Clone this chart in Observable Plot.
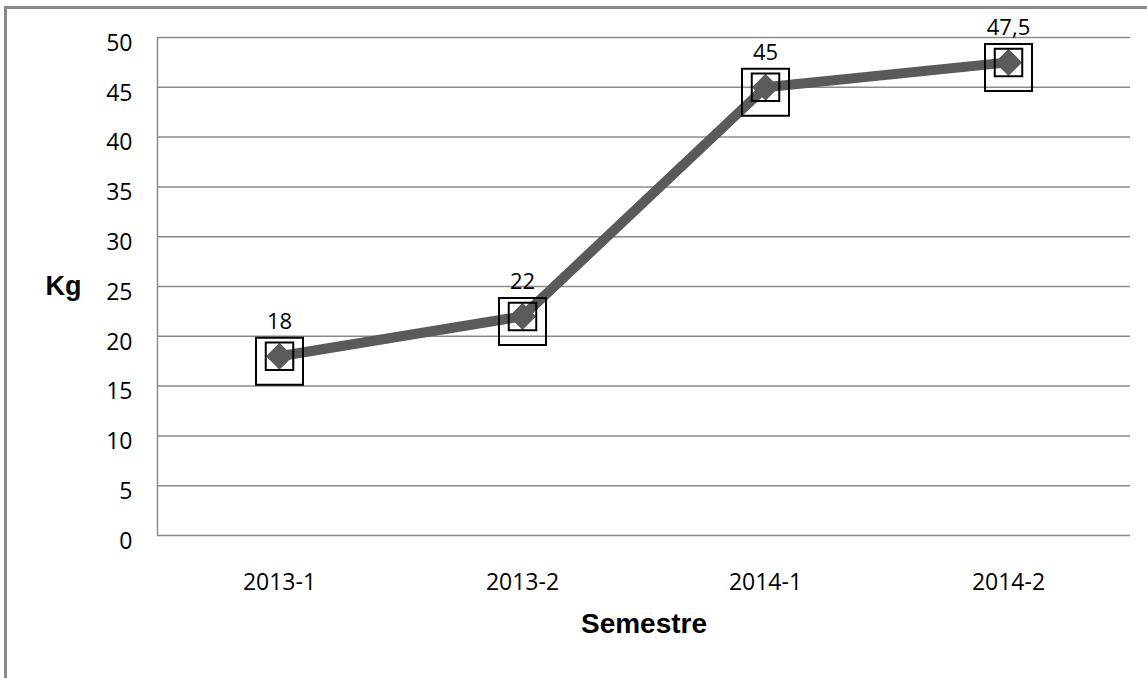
<!DOCTYPE html>
<html>
<head>
<meta charset="utf-8">
<script src="https://cdn.jsdelivr.net/npm/d3@7"></script>
<script src="https://cdn.jsdelivr.net/npm/@observablehq/plot@0.6"></script>
<style>
  html, body { margin: 0; padding: 0; background: #fff; overflow: hidden; }
  #frame { position: absolute; left: 4px; top: 6px; width: 1400px; height: 900px;
           border-left: 3px solid #8a8a8a; border-top: 3px solid #8a8a8a; }
  #chart { position: absolute; left: 0; top: 0; }
</style>
</head>
<body>
<div id="frame"></div>
<div id="chart"></div>
<script>
const semestres = ["2013-1", "2013-2", "2014-1", "2014-2"];
const kg = [18, 22, 45, 47.5];
const valueLabels = ["18", "22", "45", "47,5"];
const yTicks = [0, 5, 10, 15, 20, 25, 30, 35, 40, 45, 50];

const data = semestres.map((s, i) => ({semestre: s, kg: kg[i], label: valueLabels[i]}));

const W = 1147, H = 678, ML = 157, MR = 17, MT = 37, MB = 143;
const sq = side => side / Math.sqrt(Math.PI);

const chart = Plot.plot({
  width: W,
  height: H,
  marginLeft: ML,
  marginRight: MR,
  marginTop: MT,
  marginBottom: MB,
  style: {background: "transparent", fontFamily: "'Open Sans', sans-serif"},
  x: {type: "point", domain: semestres, padding: 0.5, axis: null},
  y: {domain: [0, 50], axis: null},
  marks: [
    Plot.gridY(yTicks, {stroke: "#8a8a8a", strokeOpacity: 1, strokeWidth: 1.5}),
    Plot.ruleX([0], {x: null, y1: 0, y2: 50, dx: -((ML + W - MR) / 2 - ML), stroke: "#8a8a8a", strokeWidth: 1.5}),
    Plot.axisY(yTicks, {tickSize: 0, tickPadding: 25, dy: 6, fontSize: 23, fill: "#000", label: null}),
    Plot.axisX(semestres, {tickSize: 0, tickPadding: 38, fontSize: 23, fill: "#000", label: null}),
    Plot.line(data, {x: "semestre", y: "kg", stroke: "#5a5a5a", strokeWidth: 10}),
    Plot.dot(data, {x: "semestre", y: "kg", symbol: "square", r: sq(47), dy: 5, stroke: "#000", strokeWidth: 2, fill: "none"}),
    Plot.dot(data, {x: "semestre", y: "kg", symbol: "diamond2", r: 12.2, fill: "#5b5b5b", stroke: "none", ariaLabel: "diamond"}),
    Plot.dot(data, {x: "semestre", y: "kg", symbol: "square", r: sq(27.5), stroke: "#000", strokeWidth: 2, fill: "none"}),
    Plot.text(data, {x: "semestre", y: "kg", text: "label", dy: -34, fontSize: 22, fill: "#000"}),
    Plot.text(["Kg"], {frameAnchor: "left", textAnchor: "middle", dx: -94, fontSize: 27, fontWeight: "bold", fontFamily: "'Liberation Sans', Arial, sans-serif", fill: "#000"}),
    Plot.text(["Semestre"], {frameAnchor: "bottom", dy: 97, fontSize: 28, fontWeight: "bold", fontFamily: "'Liberation Sans', Arial, sans-serif", fill: "#000"})
  ]
});

const svg = d3.select(chart);
const defs = svg.insert("defs", ":first-child");
const f = defs.append("filter").attr("id", "dshadow").attr("x", "-50%").attr("y", "-50%").attr("width", "200%").attr("height", "220%");
f.append("feDropShadow").attr("dx", 0).attr("dy", 5).attr("stdDeviation", 3).attr("flood-color", "#000").attr("flood-opacity", 0.35);
svg.select('g[aria-label="diamond"]').attr("filter", "url(#dshadow)");

document.getElementById("chart").appendChild(chart);
</script>
</body>
</html>
